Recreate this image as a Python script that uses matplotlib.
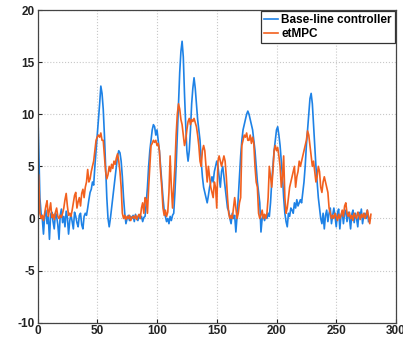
import numpy as np
import matplotlib
matplotlib.use("Agg")
import matplotlib.pyplot as plt

# values, one sample per time step
baseline = [
    11.5, 7, 2, 0.5, 0, -1.5, 0.3, 0.8, -0.5, 0.2, -2, 0.4, 0.6, -0.3, -1, 0.5, 0.2, -0.6, -2, 0.3,
    0.9, -0.4, 0.2, -0.8, 0.7, 0.1, -1.5, -0.2, 0.4, -0.3, -1, 0.6, 0.2, -0.4, -0.8, 0.3, 0.5, -0.6, -1, 0.2,
    0.5, 0.3, 1, 1.8, 2.5, 2.8, 3.5, 3.2, 5, 6.5, 8, 9.5, 11, 12.7, 12, 10.5, 8, 5, 2, 0,
    -0.8, 0, 1, 2, 3, 4, 5, 6, 6.5, 6.3, 5.5, 4, 2, 0.5, -0.5, 0, 0.3, -0.2, 0.2, 0,
    0.3, -0.3, 0.4, 0, -0.2, 0.3, 0, 0.2, -0.3, 0.1, 0.2, 1.5, 3, 5, 6.5, 7.5, 8.5, 9, 8.8, 8,
    8.5, 7.5, 6.5, 5, 3.5, 2, 0.8, 0.2, -0.3, 0, -0.5, 0.2, -0.2, 0.3, 0.5, 2.5, 5, 8, 11, 14,
    16, 17, 15.5, 12, 9, 6.5, 5.5, 6.5, 8.5, 11, 12.5, 13.5, 12.5, 11, 9.5, 8.5, 7.5, 5.5, 4, 3,
    2.5, 2, 1.5, 2.2, 3, 3.5, 4, 3.5, 4.5, 5, 5.5, 5, 4, 3, 4.5, 5, 4, 3, 2, 1,
    0.7, 0, -0.5, 0.5, 0, 0.3, -1.3, 0.2, 2, 4, 6, 7.5, 8.5, 9, 9.5, 10, 10.3, 10, 9.5, 9,
    8.5, 7.5, 6.5, 5, 3.5, 2.5, 1.5, -1.3, 0, 0.3, -0.2, 0.3, 0, 0.5, 0.2, 1.5, 3.5, 5, 6.5, 7.5,
    8.5, 8.8, 8, 7, 5.5, 4, 2, 0.5, -0.3, -0.8, 0.5, 0.2, 1, 0.8, 0.5, 1.5, 1, 1.8, 1.2, 1.5,
    1.8, 1.5, 2.5, 3.5, 5, 7, 8.5, 10, 11.5, 12, 11, 9, 7, 5, 3.5, 2, 1, 0, -0.5, 0.5,
    -1, 0.3, 0.8, -0.3, 0.5, 1, -0.5, 0.3, 1, 0.2, -0.8, 0.5, 0.9, -1, 0.3, 0.7, -0.5, 0.5, 0.8, -0.3,
    0.6, 0.1, -1, 0.4, 0.8, -0.4, 0.5, 0, -0.8, 0.6, 0.2, 0.9, -0.5, 0.3, 0.5, 0, 0.8, -0.3,
]

etmpc = [
    -4.6, 4.2, 0.5, 0, 0.3, -0.2, 0.5, 1.2, 1.7, 0.2, 0.8, 1.5, 0.1, 0.4, -0.1, 0.6, 1, 0.2, 0, 0.3,
    0.1, 0.5, 1, 1.8, 2.4, 1.2, 0.3, 0.5, 0.2, 0.8, 1.5, 2.2, 2.5, 1, 1.6, 2, 1.2, 2.4, 2.8, 2,
    3, 3.5, 4.7, 3.5, 3.8, 4.5, 5, 5.5, 6.5, 7.5, 7.8, 8, 7.8, 8.2, 7.5, 7.5, 6, 4.5, 3.8, 4.2,
    5, 4.5, 5.2, 4.8, 5.5, 5.2, 5.8, 6.2, 5.5, 4.5, 3, 0.5, 0, 0.3, -0.1, 0.2, 0, 0.3, -0.2, 0.1,
    0.2, 0, 0.3, -0.1, 0.2, 0.4, 0, 1, 1.5, 0.5, 2, 1.8, 0.5, 3, 5, 7, 7.2, 7.5, 7.3, 7.5,
    7, 7.2, 6.5, 4.5, 3, 1, 0.3, 0.8, 0.2, 0.6, 2.5, 6, 3, 1, 3, 5, 8, 10, 11, 10.5,
    9.5, 9, 8, 7, 7.5, 8.5, 9.3, 9.6, 9, 9.5, 9.3, 9.6, 9.2, 8.8, 8, 7, 5.5, 5, 6.5, 7,
    6.5, 5, 3.5, 5, 4, 3, 2.5, 2, 3.5, 3, 1, 5.5, 6, 5.5, 5, 5.5, 6, 5.5, 4, 2,
    0.5, 0, 0.3, 0, 1, 2, 1, 0, 0.5, 1.5, 2, 7, 7.5, 8, 7.8, 8.2, 7.5, 7.5, 8, 7.2,
    7.8, 7.2, 5, 3.5, 3, 0.5, 0, 0.3, 0.8, 0, 0.4, 0, 0.5, 2, 5, 4, 3, 4.5, 6.5, 7,
    6.5, 6.8, 6, 5, 3, 4, 6, 2, 0.5, 1, 2, 3, 3.5, 4, 4.5, 5, 3, 4, 4.5, 5.5,
    5, 5.5, 6, 6.5, 7, 7.5, 8.4, 8, 7, 6, 5, 5.5, 4.5, 3.5, 4, 5, 4.5, 3, 2.5, 3.5,
    4, 3.5, 3, 2.5, 1, 0.5, 0, 0.3, 0, 0.5, 0.2, -0.2, 0.4, 0, 0.3, 0.8, 0.2, 1.2, 1.5, 0.5,
    0.2, 0.6, 0, 0.3, -0.2, 0.5, 0.2, 0, 0.6, 0.3, -0.1, 0.4, 0.1, 0.5, 0, 0.3, 0.8, 0.2, -0.5, 0.4,
]

labels = ["Base-line controller", "etMPC"]
xticks = [0, 50, 100, 150, 200, 250, 300]
yticks = [-10, -5, 0, 5, 10, 15, 20]

plt.rcParams['font.family'] = ['Liberation Sans', 'DejaVu Sans']
plt.rcParams['font.weight'] = 'bold'
plt.rcParams['axes.unicode_minus'] = False

fig = plt.figure(figsize=(4.03, 3.41), dpi=100)
ax = fig.add_axes([37.5 / 403, 18.3 / 341, 358.5 / 403, 312.7 / 341])

ax.plot(np.arange(len(baseline)), baseline, color='#1E82E6', lw=1.2, label=labels[0])
ax.plot(np.arange(len(etmpc)), etmpc, color='#F2601E', lw=1.2, label=labels[1])

ax.set_xlim(0, 300)
ax.set_ylim(-10, 20)
ax.set_xticks(xticks)
ax.set_yticks(yticks)
ax.tick_params(direction='in', length=3, labelsize=8.5, colors='#222222', pad=2)
for lab in ax.get_xticklabels() + ax.get_yticklabels():
    lab.set_fontweight('bold')
ax.grid(True, linestyle=':', color='#c8c8c8', linewidth=0.8)
for s in ax.spines.values():
    s.set_color('#444444')
    s.set_linewidth(0.9)

leg = ax.legend(loc='upper right', borderaxespad=0.1, fancybox=False, framealpha=1,
                edgecolor='#333333', handlelength=1.2, handletextpad=0.3,
                borderpad=0.25, labelspacing=0.2, prop={'weight': 'bold', 'size': 8.5})
leg.get_frame().set_linewidth(0.9)

fig.savefig("out.png", dpi=100)
